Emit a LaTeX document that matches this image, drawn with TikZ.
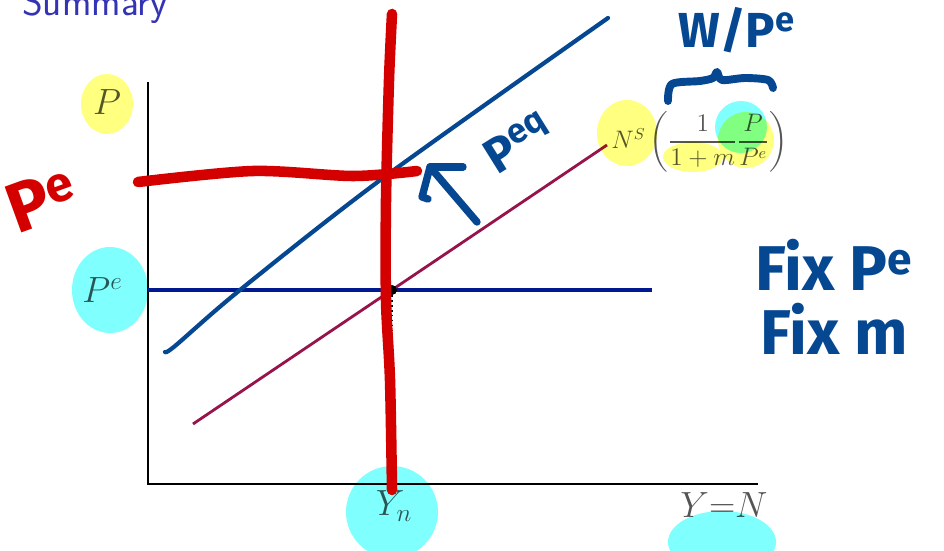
\documentclass[tikz,border=0pt]{standalone}
\usepackage{amsmath}
\usepackage{fontspec}
\newfontfamily\handfont{Fira Sans}
\usetikzlibrary{positioning}
\definecolor{slidegray}{RGB}{85,85,85}
\definecolor{titleblue}{RGB}{51,51,179}
\definecolor{pelinecol}{RGB}{0,25,145}
\definecolor{nslinecol}{RGB}{150,20,75}
\definecolor{inkblue}{RGB}{5,72,145}
\definecolor{inkred}{RGB}{212,0,0}
\definecolor{hiyellow}{RGB}{255,255,128}
\definecolor{hicyan}{RGB}{128,255,255}
\tikzset{axis/.style = {line width=0.6pt, black}}
\tikzset{lbl/.style = {text=slidegray, inner sep=0, font=\fontsize{20}{24}\selectfont}}
\tikzset{scrawl/.style = {inner sep=0, font=\fontsize{#1}{#1}\selectfont\handfont\bfseries}}
\tikzset{blueink/.style = {draw=inkblue, line width=4.2pt, line cap=round, line join=round}}
\tikzset{redink/.style = {draw=inkred, line width=6pt, line cap=round, line join=round}}
\tikzset{every picture/.style={x=0.02cm, y=-0.02cm}}

\begin{document}
\begin{tikzpicture}
      \useasboundingbox (0,0) rectangle (944,551);
      \node[anchor=base west, inner sep=0, text=titleblue,
            font=\fontsize{22.5}{26}\selectfont\sffamily] (title) at (22,15) {Summary};
      % axes
      \coordinate (O) at (148,484);
      \coordinate (ytop) at (148,82);
      \coordinate (xend) at (758,484);
      \draw[axis] (ytop) -- (O) -- (xend);
      % P^e line and labour supply line
      \coordinate (pe0) at (148,290);
      \coordinate (pe1) at (652,290);
      \coordinate (ns0) at (193,424);
      \coordinate (ns1) at (607,145);
      \coordinate (eqx) at (392,484);
      \draw[pelinecol, line width=2.2pt] (pe0) -- (pe1);
      \draw[nslinecol, line width=1.6pt] (ns0) -- (ns1);
      \node[fill, circle, inner sep=0, minimum size=0.2cm] (eq) at (392,290) {};
      \draw[dotted, line width=0.8pt] (eq) -- (eqx);
      % labels
      \node[lbl] (Plbl) at (107,102) {$P$};
      \node[lbl, left=0.5cm of pe0] (Pelbl) {$P^e$};
      \node[lbl] (Ynlbl) at (394,506) {$Y_n$};
      \node[lbl] (YNlbl) at (724,505) {$Y{=}N$};
      \node[lbl, anchor=west, font=\fontsize{13.5}{16}\selectfont] (nslbl) at (611,142)
            {$N^S\left(\dfrac{1}{1+m}\dfrac{P}{P^e}\right)$};
      % highlighter
      \begin{scope}[blend mode=multiply]
        \fill[hiyellow] (107,104) ellipse [x radius=26, y radius=30];
        \fill[hicyan] (110,290) ellipse [x radius=38, y radius=43];
        \fill[hicyan] (392,512) ellipse [x radius=46, y radius=46];
        \fill[hicyan] (722,542) ellipse [x radius=54, y radius=31];
        \fill[hiyellow] (627,133) ellipse [x radius=30, y radius=33];
        \fill[hiyellow] (693,157) ellipse [x radius=30, y radius=15];
        \fill[hiyellow] (746,140) ellipse [x radius=28, y radius=28];
        \fill[hicyan] (741,127) circle [radius=26];
      \end{scope}
      % blue ink
      \draw[blueink, line width=2.4pt] plot[smooth] coordinates
            {(165,352) (175,346) (240,290) (383,178) (608,18)};
      \coordinate (arrtail) at (477,222);
      \coordinate (arrtip) at (430,167);
      \draw[blueink] (arrtail) -- (arrtip) -- (422,197) -- (428,199);
      \draw[blueink] (arrtip) -- (463,167);
      \node[scrawl=28, text=inkblue, rotate=32] (peq) at (518,142) {P\textsuperscript{eq}};
      \node[scrawl=28, text=inkblue] (wpe) at (737,30) {W/P\textsuperscript{e}};
      \draw[blueink, line width=4.5pt] plot[smooth] coordinates
            {(668,101) (672,84) (700,81) (713,78) (717,72) (722,80) (745,78) (768,80) (773,88)};
      \node[scrawl=36, text=inkblue, anchor=base west] (fixpe) at (755,290) {Fix P\textsuperscript{e}};
      \node[scrawl=36, text=inkblue, anchor=base west] (fixm) at (760,354) {Fix m};
      % red ink
      \draw[redink] plot[smooth] coordinates
            {(138,182) (253,171) (353,176) (417,171)};
      \draw[redink] plot[smooth] coordinates
            {(392,14) (389,80) (386,200) (386,300) (390,380) (392,490)};
      \node[scrawl=40, text=inkred, rotate=20] (pered) at (42,200) {P\textsuperscript{e}};
\end{tikzpicture}
\end{document}
